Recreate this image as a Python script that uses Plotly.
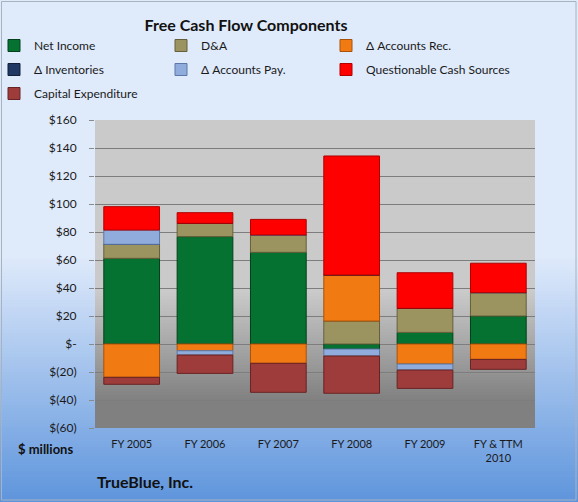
import plotly.graph_objects as go

# ---------------- data ----------------
categories = ["FY 2005", "FY 2006", "FY 2007", "FY 2008", "FY 2009", "FY & TTM<br>2010"]
net_income = [61.2, 76.7, 65.5, -3.6, 8.3, 20.0]
d_and_a = [10.0, 9.5, 12.4, 16.4, 17.2, 16.7]
accounts_rec = [-23.8, -4.8, -13.8, 32.9, -14.3, -11.0]
inventories = [0, 0, 0, 0, 0, 0]
accounts_pay = [10.2, -3.1, 0, -5.0, -4.3, 0]
questionable = [16.7, 7.6, 11.1, 85.0, 25.4, 21.0]
capex = [-5.0, -13.1, -20.7, -26.6, -13.1, -7.1]

tick_vals = [160, 140, 120, 100, 80, 60, 40, 20, 0, -20, -40, -60]
tick_text = ["$160", "$140", "$120", "$100", "$80", "$60", "$40", "$20", "$-", "$(20)", "$(40)", "$(60)"]

# ---------------- layout geometry (pixels) ----------------
W, H = 578, 502
L, R, T, B = 95, 535, 120, 428
PW, PH = R - L, B - T


def px_x(p):
    return (p - L) / PW


def px_y(p):
    return (B - p) / PH


def lerp(c1, c2, t):
    return "rgb(%d,%d,%d)" % tuple(round(a + (b - a) * t) for a, b in zip(c1, c2))


shapes = []
# figure background gradient (light blue -> blue)
top_c = (223, 234, 251)
bot_c = (93, 148, 220)
step = 3
for p in range(255, H, step):
    t = (p - 255) / (H - 255)
    shapes.append(dict(type="rect", xref="paper", yref="paper", layer="below",
                       x0=px_x(0), x1=px_x(W), y0=px_y(p + step), y1=px_y(p),
                       fillcolor=lerp(top_c, bot_c, t), line=dict(width=0)))
# plot area gradient (light gray -> gray)
pa_top = (202, 202, 202)
pa_bot = (128, 128, 128)
shapes.append(dict(type="rect", xref="paper", yref="paper", layer="below",
                   x0=0, x1=1, y0=px_y(290), y1=1,
                   fillcolor=lerp(pa_top, pa_bot, 0), line=dict(width=0)))
for p in range(290, B, step):
    t = min(1.0, (p - 290) / (400 - 290))
    shapes.append(dict(type="rect", xref="paper", yref="paper", layer="below",
                       x0=0, x1=1, y0=px_y(min(B, p + step)), y1=px_y(p),
                       fillcolor=lerp(pa_top, pa_bot, t), line=dict(width=0)))
# outer border
shapes.append(dict(type="rect", xref="paper", yref="paper", layer="above",
                   x0=px_x(1.5), x1=px_x(576), y0=px_y(500), y1=px_y(1.5),
                   fillcolor="rgba(0,0,0,0)", line=dict(color="#a9b3bf", width=1)))

series = [
    ("Net Income", net_income, "#067231", "#03401c", "legend"),
    ("D&A", d_and_a, "#9c9460", "#665f3c", "legend2"),
    ("Δ Accounts Rec.", accounts_rec, "#f27a12", "#a8520a", "legend3"),
    ("Δ Inventories", inventories, "#1f3864", "#101f3a", "legend"),
    ("Δ Accounts Pay.", accounts_pay, "#90acdc", "#5b78a6", "legend2"),
    ("Questionable Cash Sources", questionable, "#ff0000", "#b00000", "legend3"),
    ("Capital Expenditure", capex, "#9e3b3b", "#682424", "legend"),
]

fig = go.Figure()
for i, (name, vals, col, lcol, lg) in enumerate(series):
    fig.add_trace(go.Bar(
        x=categories, y=vals, name=name, legendgroup="g%d" % i, legend=lg,
        marker=dict(color=col, line=dict(color=lcol, width=1)),
    ))

font_family = "Lato, 'Open Sans', sans-serif"
leg_common = dict(orientation="v", xref="paper", yref="paper",
                  xanchor="left", yanchor="top", bgcolor="rgba(0,0,0,0)",
                  borderwidth=0,
                  font=dict(family=font_family, size=12, color="#1a1a1a"),
                  tracegroupgap=5, itemclick=False, itemdoubleclick=False)
leg_y = px_y(31)
fig.update_layout(
    width=W, height=H,
    margin=dict(l=L, r=W - R, t=T, b=H - B, pad=0, autoexpand=False),
    barmode="relative", bargap=0.24,
    paper_bgcolor="rgb(223,234,251)", plot_bgcolor="rgba(0,0,0,0)",
    font=dict(family=font_family, color="#1a1a1a"),
    title=dict(text="<b>Free Cash Flow Components</b>", x=246 / W, xanchor="center",
               y=1 - 25 / H, yanchor="middle", xref="container", yref="container",
               font=dict(family=font_family, size=16, color="#111111")),
    legend=dict(x=px_x(-6), y=leg_y, **leg_common),
    legend2=dict(x=px_x(161), y=leg_y, **leg_common),
    legend3=dict(x=px_x(326), y=leg_y, **leg_common),
    xaxis=dict(showgrid=False, showline=False, ticks="", zeroline=False,
               ticklabelstandoff=8,
               tickfont=dict(family=font_family, size=11, color="#1a1a1a")),
    yaxis=dict(range=[-60, 160], tickvals=tick_vals, ticktext=tick_text,
               showgrid=True, gridcolor="#7d7d7d", gridwidth=1, zeroline=False,
               ticks="outside", ticklen=5, tickcolor="#8a8a8a", showline=False,
               ticklabelstandoff=10,
               tickfont=dict(family=font_family, size=12, color="#1a1a1a")),
    shapes=shapes,
    annotations=[
        dict(text="<b>$ millions</b>", xref="paper", yref="paper", x=px_x(75), y=px_y(449),
             xanchor="right", yanchor="middle", showarrow=False,
             font=dict(family=font_family, size=13, color="#111111")),
        dict(text="<b>TrueBlue, Inc.</b>", xref="paper", yref="paper", x=px_x(95), y=px_y(481),
             xanchor="left", yanchor="middle", showarrow=False,
             font=dict(family=font_family, size=16, color="#111111")),
    ],
)

fig.write_html("out.html")
